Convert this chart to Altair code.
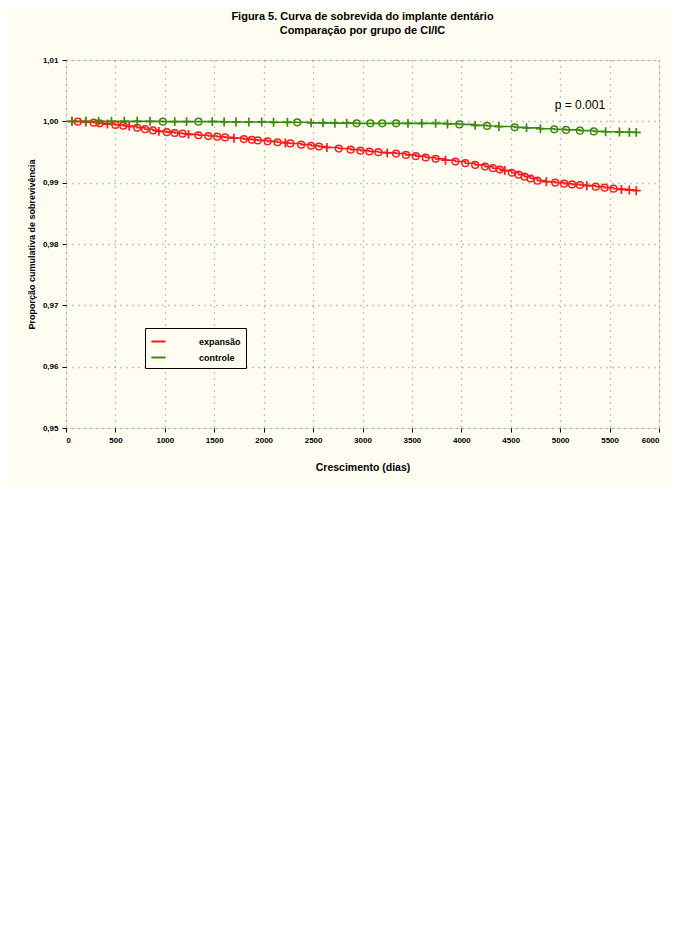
import altair as alt
import pandas as pd

TITLE = ["Figura 5.  Curva de sobrevida do implante dentário",
         "Comparação por grupo de CI/IC"]
X_TITLE = "Crescimento (dias)"
Y_TITLE = "Proporção cumulativa de sobrevivência"
LABELS = ["expansão", "controle"]
COLORS = ["#ff1a1a", "#3a8a10"]
P_TEXT = "p = 0.001"
P_POS = (5200, 1.0026)

X_TICKS = [0, 500, 1000, 1500, 2000, 2500, 3000, 3500, 4000, 4500, 5000, 5500, 6000]
Y_TICKS = [0.95, 0.96, 0.97, 0.98, 0.99, 1.00, 1.01]

red_t = [60, 120, 200, 280, 340, 420, 500, 580, 640, 720, 800, 880, 940, 1020, 1100,
         1180, 1240, 1340, 1440, 1530, 1610, 1700, 1800, 1880, 1940, 2040, 2140, 2220,
         2270, 2380, 2480, 2560, 2640, 2760, 2880, 2980, 3070, 3160, 3250, 3340, 3440,
         3540, 3640, 3740, 3840, 3940, 4040, 4140, 4240, 4320, 4390, 4440, 4510, 4580,
         4640, 4700, 4770, 4860, 4950, 5040, 5120, 5200, 5270, 5360, 5450, 5540, 5620,
         5700, 5770]
red_s = [1.00000, 0.99995, 0.99988, 0.99978, 0.99967, 0.99955, 0.99942, 0.99930, 0.99918,
         0.99895, 0.99872, 0.99852, 0.99836, 0.99824, 0.99810, 0.99798, 0.99787, 0.99773,
         0.99760, 0.99749, 0.99738, 0.99725, 0.99710, 0.99699, 0.99689, 0.99674, 0.99659,
         0.99647, 0.99639, 0.99620, 0.99602, 0.99588, 0.99574, 0.99556, 0.99538, 0.99522,
         0.99508, 0.99497, 0.99486, 0.99475, 0.99453, 0.99432, 0.99410, 0.99388, 0.99366,
         0.99344, 0.99317, 0.99290, 0.99262, 0.99236, 0.99213, 0.99197, 0.99162, 0.99130,
         0.99098, 0.99068, 0.99033, 0.99016, 0.99000, 0.98984, 0.98972, 0.98962, 0.98951,
         0.98934, 0.98918, 0.98902, 0.98890, 0.98879, 0.98869]
red_k = ["+", "o", "+", "o", "o", "+", "o", "o", "+", "o", "o", "o", "+", "o", "o",
         "o", "+", "o", "o", "o", "o", "+", "o", "o", "o", "o", "o", "+",
         "o", "o", "o", "o", "+", "o", "o", "o", "o", "o", "+", "o", "o",
         "o", "o", "o", "+", "o", "o", "o", "o", "o", "o", "+", "o", "o",
         "o", "o", "o", "+", "o", "o", "o", "o", "+", "o", "o", "o", "+",
         "+", "+"]

green_t = [60, 200, 330, 460, 590, 720, 850, 980, 1100, 1220, 1340, 1480, 1600, 1720, 1850,
           1980, 2100, 2240, 2340, 2480, 2600, 2720, 2840, 2940, 3080, 3200, 3340, 3460,
           3600, 3740, 3860, 3980, 4140, 4260, 4380, 4540, 4660, 4800, 4940, 5060, 5200,
           5340, 5460, 5600, 5700, 5770]
green_s = [1.00000, 1.00000, 1.00000, 1.00000, 1.00000, 1.00000, 1.00000, 0.99995, 0.99995,
           0.99995, 0.99995, 0.99995, 0.99990, 0.99990, 0.99990, 0.99990, 0.99984, 0.99984,
           0.99984, 0.99975, 0.99975, 0.99970, 0.99970, 0.99967, 0.99967, 0.99967, 0.99967,
           0.99967, 0.99967, 0.99967, 0.99958, 0.99950, 0.99934, 0.99925, 0.99915, 0.99902,
           0.99893, 0.99880, 0.99869, 0.99860, 0.99848, 0.99836, 0.99830, 0.99825, 0.99822,
           0.99820]
green_k = ["+", "+", "+", "+", "+", "+", "+", "o", "+", "+", "o", "+", "+", "+", "+",
           "+", "+", "+", "o", "+", "+", "+", "+", "o", "o", "o", "o", "+",
           "+", "+", "+", "o", "+", "o", "+", "o", "+", "+", "o", "o", "o",
           "o", "+", "+", "+", "+"]

rows = []
for t, s, k in zip(red_t, red_s, red_k):
    rows.append({"t": t, "s": s, "k": k, "g": LABELS[0]})
for t, s, k in zip(green_t, green_s, green_k):
    rows.append({"t": t, "s": s, "k": k, "g": LABELS[1]})
df = pd.DataFrame(rows)

FONT = "Liberation Sans"

xenc = alt.X("t:Q", scale=alt.Scale(domain=[0, 6000], nice=False, zero=False),
             axis=alt.Axis(values=X_TICKS, title=X_TITLE, format="d", grid=True,
                           gridDash=[1, 5], gridColor="#7f93b0", gridWidth=1.4,
                           tickSize=4, tickColor="black", domain=False,
                           labelFontSize=8, labelFontWeight="bold", labelColor="black",
                           titleFontSize=10.5, titleFontWeight="bold", titlePadding=18,
                           labelPadding=4))
yenc = alt.Y("s:Q", scale=alt.Scale(domain=[0.95, 1.01], nice=False, zero=False),
             axis=alt.Axis(values=Y_TICKS, title=Y_TITLE, grid=True,
                           labelExpr="replace(format(datum.value, '.2f'), '.', ',')",
                           gridDash=[1, 5], gridColor="#7f93b0", gridWidth=1.4,
                           tickSize=4, tickColor="black", domain=False,
                           labelFontSize=8, labelFontWeight="bold", labelColor="black",
                           titleFontSize=9, titleFontWeight="bold", titlePadding=6,
                           labelPadding=4))
cenc = alt.Color("g:N", scale=alt.Scale(domain=LABELS, range=COLORS),
                 legend=alt.Legend(orient="none", legendX=79, legendY=268, title=None,
                                   symbolType="stroke", symbolStrokeWidth=2, symbolSize=200,
                                   strokeColor="black", fillColor="#fffdf2", padding=5,
                                   labelFontSize=9, labelFontWeight="bold",
                                   labelColor="black", rowPadding=2, labelOffset=32,
                                   labelLimit=200, columnPadding=20))

base = alt.Chart(df)
lines = base.mark_line(interpolate="step-after", strokeWidth=1.6).encode(x=xenc, y=yenc, color=cenc)
circles = base.transform_filter("datum.k == 'o'").mark_point(
    shape="circle", filled=False, size=45, strokeWidth=1.5, opacity=1
).encode(x=xenc, y=yenc, color=cenc)
pluses = base.transform_filter("datum.k == '+'").mark_point(
    shape="M -1 0 L 1 0 M 0 -1 L 0 1", filled=False, size=80, strokeWidth=1.7, opacity=1
).encode(x=xenc, y=yenc, color=cenc)

ptext = alt.Chart(pd.DataFrame({"t": [P_POS[0]], "s": [P_POS[1]], "txt": [P_TEXT]})).mark_text(
    font=FONT, fontSize=12, color="black", align="center", baseline="middle"
).encode(x=alt.X("t:Q"), y=alt.Y("s:Q"), text="txt:N")

chart = alt.layer(lines, circles, pluses, ptext).properties(
    width=593, height=368,
    title=alt.TitleParams(TITLE, fontSize=11, fontWeight="bold", font=FONT, color="black",
                          anchor="middle", offset=20, lineHeight=14),
    autosize=alt.AutoSizeParams(type="none"),
    padding={"left": 58, "top": 52, "right": 12, "bottom": 60},
    background="#fffdf2",
).configure_view(
    stroke="black", strokeWidth=2
).configure(font=FONT)

chart.save("out.html", embed_options={"renderer": "svg", "actions": False})
